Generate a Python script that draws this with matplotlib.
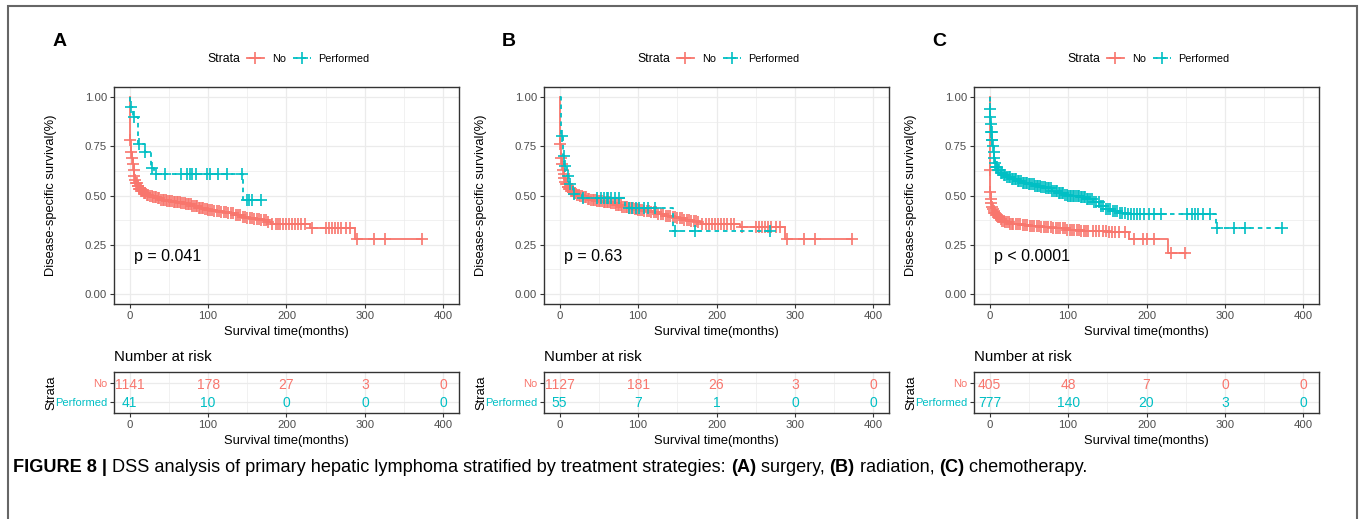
import numpy as np
import matplotlib
matplotlib.use("Agg")
import matplotlib.pyplot as plt
from matplotlib.lines import Line2D
from matplotlib.patches import Rectangle

plt.rcParams['font.family'] = ['Liberation Sans', 'DejaVu Sans']

RED = '#F8766D'
CYAN = '#00BFC4'
GRID = '#EBEBEB'
TICK = '#4D4D4D'

# ---------------- data ----------------
# panel A: surgery
a_no_t = [0, 0.5, 1, 1.5, 2, 3, 4, 5, 6, 7, 8, 10, 12, 15, 18, 22, 26, 30, 35, 40, 48, 55, 65, 72,
          80, 88, 95, 100, 108, 116, 125, 133, 142, 150, 158, 167, 175, 180, 230, 287, 373]
a_no_s = [1.0, 0.83, 0.78, 0.75, 0.72, 0.69, 0.66, 0.63, 0.60, 0.58, 0.565, 0.55, 0.535, 0.525, 0.515,
          0.505, 0.497, 0.49, 0.485, 0.478, 0.472, 0.468, 0.462, 0.455, 0.445, 0.438, 0.432, 0.428,
          0.423, 0.418, 0.41, 0.40, 0.392, 0.386, 0.38, 0.374, 0.366, 0.356, 0.336, 0.278, 0.278]
a_no_c = [1, 2, 3, 4, 5, 6, 7, 8, 9, 10, 11, 12, 13, 14, 15, 16, 17, 18, 19, 20, 22, 24, 26, 28, 30,
          32, 34, 36, 38, 40, 42, 44, 46, 48, 50, 52, 54, 56, 58, 60, 62, 64, 66, 68, 70, 72, 74, 76,
          78, 80, 82, 84, 86, 88, 90, 92, 94, 96, 98, 100, 102, 105, 108, 111, 114, 117, 120, 123, 126,
          129, 132, 135, 138, 141, 144, 147, 150, 153, 156, 159, 162, 165, 168, 171, 174, 177, 182,
          186, 189, 192, 195, 199, 203, 207, 211, 215, 219, 223, 233, 250, 254, 258, 262, 266, 270,
          276, 281, 290, 312, 325, 373]
a_pf_t = [0, 1, 4, 11, 19, 27, 31, 145, 171]
a_pf_s = [1.0, 0.95, 0.9, 0.76, 0.72, 0.64, 0.607, 0.478, 0.478]
a_pf_c = [1.5, 5, 12, 20, 28, 33, 45, 66, 73, 77, 79, 85, 98, 102, 113, 124, 143, 149, 152, 156, 168]

# panel B: radiation
b_no_t = [0, 0.5, 1, 1.5, 2, 3, 4, 5, 6, 7, 8, 10, 12, 15, 18, 22, 26, 30, 35, 40, 48, 55, 65, 72,
          80, 88, 95, 100, 108, 116, 125, 133, 142, 150, 158, 167, 175, 180, 230, 287, 373]
b_no_s = [1.0, 0.82, 0.76, 0.72, 0.69, 0.66, 0.63, 0.61, 0.59, 0.57, 0.56, 0.545, 0.532, 0.522, 0.512,
          0.503, 0.496, 0.49, 0.484, 0.478, 0.472, 0.467, 0.46, 0.452, 0.443, 0.436, 0.43, 0.426,
          0.421, 0.415, 0.406, 0.397, 0.39, 0.384, 0.378, 0.372, 0.364, 0.356, 0.338, 0.28, 0.28]
b_no_c = [1, 2, 3, 4, 5, 6, 7, 8, 9, 10, 11, 12, 13, 14, 15, 16, 17, 18, 19, 20, 22, 24, 26, 28, 30,
          32, 34, 36, 38, 40, 42, 44, 46, 48, 50, 52, 54, 56, 58, 60, 62, 64, 66, 68, 70, 72, 74, 76,
          78, 80, 82, 84, 86, 88, 90, 92, 94, 96, 98, 100, 102, 105, 108, 111, 114, 117, 120, 123, 126,
          129, 132, 135, 138, 141, 144, 147, 150, 153, 156, 159, 162, 165, 168, 171, 174, 177, 182,
          186, 190, 194, 198, 202, 206, 210, 214, 218, 222, 233, 250, 254, 258, 262, 266, 270, 276,
          281, 290, 312, 325, 373]
b_pf_t = [0, 2, 4, 6, 9, 12, 17, 28, 83, 145, 268]
b_pf_s = [1.0, 0.8, 0.7, 0.65, 0.6, 0.56, 0.51, 0.485, 0.435, 0.322, 0.322]
b_pf_c = [3, 5, 7, 10, 13, 18, 30, 48, 53, 57, 60, 62, 66, 70, 76, 88, 92, 97, 101, 107, 113, 122,
          147, 173, 268]

# panel C: chemotherapy
c_no_t = [0, 0.5, 1, 1.5, 2, 3, 4, 5, 6, 8, 10, 13, 16, 20, 25, 30, 40, 50, 65, 80, 99, 115, 130,
          150, 178, 227, 250]
c_no_s = [1.0, 0.63, 0.52, 0.48, 0.46, 0.44, 0.43, 0.42, 0.41, 0.40, 0.39, 0.38, 0.372, 0.365, 0.358,
          0.354, 0.348, 0.343, 0.338, 0.333, 0.326, 0.322, 0.318, 0.314, 0.278, 0.208, 0.208]
c_no_c = [0.5, 1, 1.5, 2, 3, 4, 5, 6, 7, 8, 9, 10, 12, 14, 16, 18, 20, 22, 24, 26, 28, 30, 33, 36, 39,
          42, 45, 48, 51, 54, 57, 60, 63, 66, 69, 72, 75, 78, 81, 84, 87, 90, 93, 96, 99, 102, 105,
          108, 111, 114, 117, 120, 123, 126, 132, 136, 140, 144, 148, 152, 156, 160, 165, 172, 184,
          195, 200, 209, 231, 249]
c_pf_t = [0, 0.5, 1, 1.5, 2, 3, 4, 5, 6, 7, 8, 10, 14, 18, 22, 28, 35, 42, 50, 58, 65, 72, 80, 88,
          95, 100, 108, 116, 124, 132, 140, 148, 156, 165, 175, 288, 373]
c_pf_s = [1.0, 0.94, 0.9, 0.86, 0.82, 0.78, 0.75, 0.72, 0.69, 0.665, 0.645, 0.63, 0.615, 0.605, 0.596,
          0.585, 0.575, 0.565, 0.556, 0.55, 0.545, 0.538, 0.525, 0.512, 0.503, 0.5, 0.495, 0.49, 0.48,
          0.468, 0.445, 0.43, 0.42, 0.413, 0.406, 0.333, 0.333]
c_pf_c = [0.5, 1, 1.5, 2, 2.5, 3, 3.5, 4, 5, 6, 7, 8, 9, 10, 12, 14, 16, 18, 20, 22, 24, 26, 28, 30,
          32, 34, 36, 38, 40, 42, 44, 46, 48, 50, 52, 54, 56, 58, 60, 62, 64, 66, 68, 70, 72, 74, 76,
          78, 80, 82, 84, 86, 88, 90, 92, 94, 96, 98, 100, 102, 104, 106, 108, 110, 112, 114, 116,
          118, 120, 122, 124, 126, 128, 130, 133, 136, 139, 142, 145, 148, 151, 154, 157, 160, 163,
          166, 169, 172, 176, 180, 184, 188, 192, 197, 203, 209, 218, 252, 258, 262, 266, 272, 281,
          290, 311, 326, 373]

p_values = ['p = 0.041', 'p = 0.63', 'p < 0.0001']
panel_labels = ['A', 'B', 'C']
strata = ['No', 'Performed']
risk_times = [0, 100, 200, 300, 400]
risk_a_no = [1141, 178, 27, 3, 0]
risk_a_pf = [41, 10, 0, 0, 0]
risk_b_no = [1127, 181, 26, 3, 0]
risk_b_pf = [55, 7, 1, 0, 0]
risk_c_no = [405, 48, 7, 0, 0]
risk_c_pf = [777, 140, 20, 3, 0]

panels = [
    (a_no_t, a_no_s, a_no_c, a_pf_t, a_pf_s, a_pf_c, risk_a_no, risk_a_pf),
    (b_no_t, b_no_s, b_no_c, b_pf_t, b_pf_s, b_pf_c, risk_b_no, risk_b_pf),
    (c_no_t, c_no_s, c_no_c, c_pf_t, c_pf_s, c_pf_c, risk_c_no, risk_c_pf),
]

# ---------------- layout (pixels) ----------------
W, H = 1360, 519
ax_left = [114, 544, 974]
letter_x = [53, 502, 932]
ax_w = 345
DASH = (0, (2.5, 2.2))


def fbox(left, top, w, h):
    return [left / W, 1 - (top + h) / H, w / W, h / H]


def style_axes(ax):
    for sp in ax.spines.values():
        sp.set_color('#333333')
        sp.set_linewidth(1.0)
    ax.tick_params(axis='both', which='major', length=3, width=0.8, color='#333333',
                   labelsize=8.2, labelcolor=TICK, pad=2)
    ax.tick_params(axis='both', which='minor', length=0)
    ax.grid(True, which='major', color=GRID, lw=0.9)
    ax.grid(True, which='minor', color=GRID, lw=0.5)
    ax.set_axisbelow(True)


def censor_y(t, s, c):
    idx = np.searchsorted(t, c, side='right') - 1
    return np.asarray(s)[idx]


fig = plt.figure(figsize=(W / 100, H / 100), dpi=100)

for i, (nt, ns, nc, pt, ps, pc, rno, rpf) in enumerate(panels):
    ax = fig.add_axes(fbox(ax_left[i], 87, ax_w, 217))
    style_axes(ax)
    ax.step(nt, ns, where='post', color=RED, lw=1.3)
    ax.plot(nc, censor_y(nt, ns, nc), ls='none', marker='+', ms=8, mew=1.2, color=RED)
    ax.step(pt, ps, where='post', color=CYAN, lw=1.3, ls=DASH)
    ax.plot(pc, censor_y(pt, ps, pc), ls='none', marker='+', ms=8, mew=1.2, color=CYAN)
    ax.set_xlim(-20, 420)
    ax.set_ylim(-0.05, 1.05)
    ax.set_xticks([0, 100, 200, 300, 400])
    ax.set_xticks([50, 150, 250, 350], minor=True)
    ax.set_yticks([0, 0.25, 0.5, 0.75, 1.0])
    ax.set_yticklabels(['0.00', '0.25', '0.50', '0.75', '1.00'])
    ax.set_yticks([0.125, 0.375, 0.625, 0.875], minor=True)
    ax.set_xlabel('Survival time(months)', fontsize=9.3, va='top')
    ax.xaxis.set_label_coords(0.5, -0.1)
    ax.set_ylabel('Disease-specific survival(%)', fontsize=9.3)
    ax.yaxis.set_label_coords(-0.165, 0.5)
    ax.text(6, 0.19, p_values[i], fontsize=11.5, va='center', ha='left')

    # legend
    ax.text(0.27, 1.129, 'Strata', transform=ax.transAxes, fontsize=8.8, va='center', ha='left')
    handles = [Line2D([], [], color=RED, lw=1.3, marker='+', ms=8, mew=1.2),
               Line2D([], [], color=CYAN, lw=1.3, ls=DASH, marker='+', ms=8, mew=1.2)]
    ax.legend(handles, strata, loc='center left', bbox_to_anchor=(0.385, 1.129), ncol=2,
              frameon=False, fontsize=7.8, handlelength=1.6, handletextpad=0.7,
              columnspacing=0.7, borderpad=0, borderaxespad=0)

    fig.text(letter_x[i] / W, 1 - 42 / H, panel_labels[i], fontsize=14, weight='bold',
             ha='left', va='center')

    # risk table
    rt = fig.add_axes(fbox(ax_left[i], 372, ax_w, 41))
    style_axes(rt)
    rt.set_xlim(-20, 420)
    rt.set_ylim(0.4, 2.6)
    rt.set_xticks([0, 100, 200, 300, 400])
    rt.set_xticks([50, 150, 250, 350], minor=True)
    rt.set_yticks([2, 1])
    rt.set_yticklabels(strata)
    rt.tick_params(axis='y', labelsize=8)
    for lab, col in zip(rt.get_yticklabels(), [RED, CYAN]):
        lab.set_color(col)
    for x, v in zip(risk_times, rno):
        rt.text(x, 2, str(v), color=RED, fontsize=10, ha='center', va='center_baseline')
    for x, v in zip(risk_times, rpf):
        rt.text(x, 1, str(v), color=CYAN, fontsize=10, ha='center', va='center_baseline')
    rt.set_xlabel('Survival time(months)', fontsize=9.3, va='top')
    rt.xaxis.set_label_coords(0.5, -0.54)
    rt.set_ylabel('Strata', fontsize=9.3)
    rt.yaxis.set_label_coords(-0.165, 0.5)
    rt.text(0, 1.37, 'Number at risk', transform=rt.transAxes, fontsize=10.8, ha='left',
            va='center')

# outer frame
fig.add_artist(Rectangle((8 / W, -0.05), (1357 - 8) / W, 1.05 - 6 / H, fill=False,
                         edgecolor='#666666', lw=1.5, transform=fig.transFigure))

# caption
cap = fig.add_axes([0, 0, 1, 1])
cap.axis('off')
pieces = [('FIGURE 8 | ', 'bold'),
          ('DSS analysis of primary hepatic lymphoma stratified by treatment strategies: ', 'normal'),
          ('(A)', 'bold'), (' surgery, ', 'normal'), ('(B)', 'bold'), (' radiation, ', 'normal'),
          ('(C)', 'bold'), (' chemotherapy.', 'normal')]
t = cap.text(13 / W, 1 - 476 / H, pieces[0][0], weight=pieces[0][1], fontsize=13.1,
             va='bottom', ha='left', transform=fig.transFigure)
for txt, wt in pieces[1:]:
    t = cap.annotate(txt, xy=(1, 0), xycoords=t, va='bottom', ha='left', weight=wt, fontsize=13.1)

fig.savefig('out.png', dpi=100)
